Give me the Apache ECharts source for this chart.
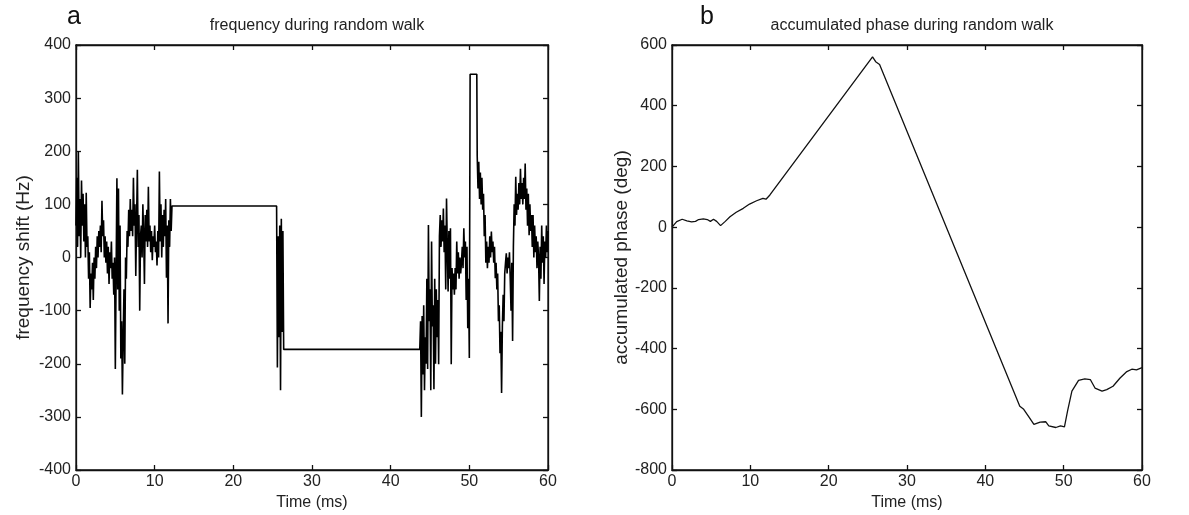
<!DOCTYPE html>
<html><head><meta charset="utf-8">
<script src="https://cdn.jsdelivr.net/npm/echarts@6/dist/echarts.min.js"></script>
<style>html,body{margin:0;padding:0;background:#fff}#c{width:1189px;height:515px}</style>
</head><body><div id="c"></div>
<script>
// ---- panel a: frequency during random walk (Hz) ----
const sampleStep = 0.1; // ms between noisy samples
const burstStart = [0, 25.6, 43.8, 51.0];
const burst1 = [60,150,20,200,40,110,0,145,60,120,30,100,0,122,20,40,-40,10,-95,-30,
  -60,-10,-80,0,-40,20,-20,40,0,50,20,60,10,107,40,70,0,40,-10,30,
  -30,20,-50,10,-20,30,-40,-10,-70,0,-210,-30,149,-60,130,-100,60,-190,-120,-258,
  -150,-60,-200,0,-40,50,20,90,40,110,50,90,40,150,60,100,-35,70,165,20,
  80,-100,40,60,0,100,40,-50,80,30,90,20,133,30,60,10,50,-5,40,20,
  60,10,30,-15,50,0,162,30,100,0,80,20,90,40,110,-38,60,-124,70,20,
  110,50,97];
const burst2 = [-207,40,-150,60,-250,73,-140,50,-173];
const burst3 = [-120,-300,-110,-220,-90,-250,-150,-200,-40,-210,61,-120,-60,-250,30,-130,-90,-248,-40,-200,
  -60,-150,-80,-201,40,80,20,70,30,92,10,60,-60,111,20,-64,50,-40,55,-201,
  -20,-60,-30,-70,-20,-60,30,-30,10,-40,0,-30,-10,20,-20,55,0,30,-80,20,
  -133,-40,-189];
const burst4 = [192,130,180,110,160,100,150,90,120,40,80,-10,30,-20,20,-10,40,0,49,10,
  30,-10,20,-39,-10,-60,-30,-120,-90,-180,-140,-255,-130,-70,-120,-30,-10,8,-30,0,
  -20,10,-40,-100,-10,-157,20,100,60,152,80,120,90,140,100,167,110,140,100,150,
  110,177,90,130,60,120,42,100,50,80,20,80,0,60,10,40,-20,30,0,-82,
  20,-40,60,-10,40,-50,30,0,60,10,50];
const holdStart = [12.2, 26.4, 50.1];
const holdEnd = [25.5, 43.7, 50.95];
const holdLevel = [97, -173, 345];

// ---- panel b: accumulated phase (deg) ----
const phaseTime = [0,0.6,1.3,1.9,2.5,3.0,3.4,4.0,4.5,4.9,5.3,5.7,6.2,6.8,7.4,8.2,9.1,9.9,10.8,11.6,
  12.0,12.5,25.6,26.0,26.5,44.4,44.9,45.6,46.2,47.0,47.7,48.1,49.0,49.6,50.1,50.5,51.05,51.9,52.7,53.4,
  54.0,54.9,55.5,56.3,57.2,58.0,58.7,59.3,60.0];
const phaseValue = [0,18,26,21,17,19,25,27,25,19,26,19,5,19,34,49,62,76,87,95,
  92,106,561,545,536,-590,-600,-627,-650,-642,-641,-655,-660,-655,-658,-605,-540,-505,-500,-502,
  -530,-540,-535,-524,-497,-477,-468,-470,-463];

const xTicks = {min:0, max:60, interval:10};
const freqAxis = {min:-400, max:400, interval:100};
const phaseAxis = {min:-800, max:600, interval:200};

function burstPoints(start, vals){
  return vals.map((v,i)=>[+(start + i*sampleStep).toFixed(2), v]);
}
const freqData = [].concat(
  burstPoints(burstStart[0], burst1),
  [[holdStart[0], holdLevel[0]], [holdEnd[0], holdLevel[0]]],
  burstPoints(burstStart[1], burst2),
  [[holdStart[1], holdLevel[1]], [holdEnd[1], holdLevel[1]]],
  burstPoints(burstStart[2], burst3),
  [[holdStart[2], holdLevel[2]], [holdEnd[2], holdLevel[2]]],
  burstPoints(burstStart[3], burst4)
);
const phaseData = phaseTime.map((t,i)=>[t, phaseValue[i]]);

const FONT = 'Liberation Sans, Arial, sans-serif';
const txt = {color:'#222', fontSize:16, fontFamily:FONT};
const nameTxt = {color:'#222', fontSize:19, fontFamily:FONT};

function xAx(g, pos, withLabel){
  return {gridIndex:g, type:'value', position:pos, min:xTicks.min, max:xTicks.max, interval:xTicks.interval,
    axisLine:{show:true, onZero:false, lineStyle:{color:'#111', width:1.3}},
    axisTick:{show:true, inside:true, length:5, lineStyle:{color:'#111', width:1.3}},
    axisLabel:{show:withLabel, margin:4, showMinLabel:true, showMaxLabel:true, ...txt},
    splitLine:{show:false},
    name: withLabel ? 'Time (ms)' : '', nameLocation:'middle', nameGap:21, nameTextStyle:{...txt}};
}
function yAx(g, pos, rng, withLabel, name, gap){
  return {gridIndex:g, type:'value', position:pos, min:rng.min, max:rng.max, interval:rng.interval,
    axisLine:{show:true, onZero:false, lineStyle:{color:'#111', width:1.3}},
    axisTick:{show:true, inside:true, length:5, lineStyle:{color:'#111', width:1.3}},
    axisLabel:{show:withLabel, margin:5, showMinLabel:true, showMaxLabel:true, ...txt},
    splitLine:{show:false},
    name: withLabel ? name : '', nameLocation:'middle', nameGap:gap, nameRotate:90, nameTextStyle:{...nameTxt}};
}

const chart = echarts.init(document.getElementById('c'), null, {renderer:'canvas'});
chart.setOption({
  animation:false,
  backgroundColor:'#fff',
  title:[
    {text:'a', left:62, top:0, textStyle:{fontSize:25, fontWeight:'normal', color:'#111', fontFamily:FONT}},
    {text:'frequency during random walk', left:312, top:13, textAlign:'center', textStyle:{...txt, fontWeight:'normal'}},
    {text:'b', left:695, top:0, textStyle:{fontSize:25, fontWeight:'normal', color:'#111', fontFamily:FONT}},
    {text:'accumulated phase during random walk', left:907, top:13, textAlign:'center', textStyle:{...txt, fontWeight:'normal'}}
  ],
  grid:[
    {left:76, top:45, width:472, height:425, show:true, borderColor:'#111', borderWidth:1.3, outerBoundsMode:'none'},
    {left:672, top:45, width:470, height:425, show:true, borderColor:'#111', borderWidth:1.3, outerBoundsMode:'none'}
  ],
  xAxis:[xAx(0,'bottom',true), xAx(0,'top',false), xAx(1,'bottom',true), xAx(1,'top',false)],
  yAxis:[
    yAx(0,'left',freqAxis,true,'frequency shift (Hz)',43),
    yAx(0,'right',freqAxis,false,'',0),
    yAx(1,'left',phaseAxis,true,'accumulated phase (deg)',41),
    yAx(1,'right',phaseAxis,false,'',0)
  ],
  series:[
    {type:'line', xAxisIndex:0, yAxisIndex:0, data:freqData, showSymbol:false, symbol:'none',
      lineStyle:{color:'#000', width:1.6}, silent:true},
    {type:'line', xAxisIndex:2, yAxisIndex:2, data:phaseData, showSymbol:false, symbol:'none', smooth:false,
      lineStyle:{color:'#111', width:1.3}, silent:true}
  ]
});
</script></body></html>
